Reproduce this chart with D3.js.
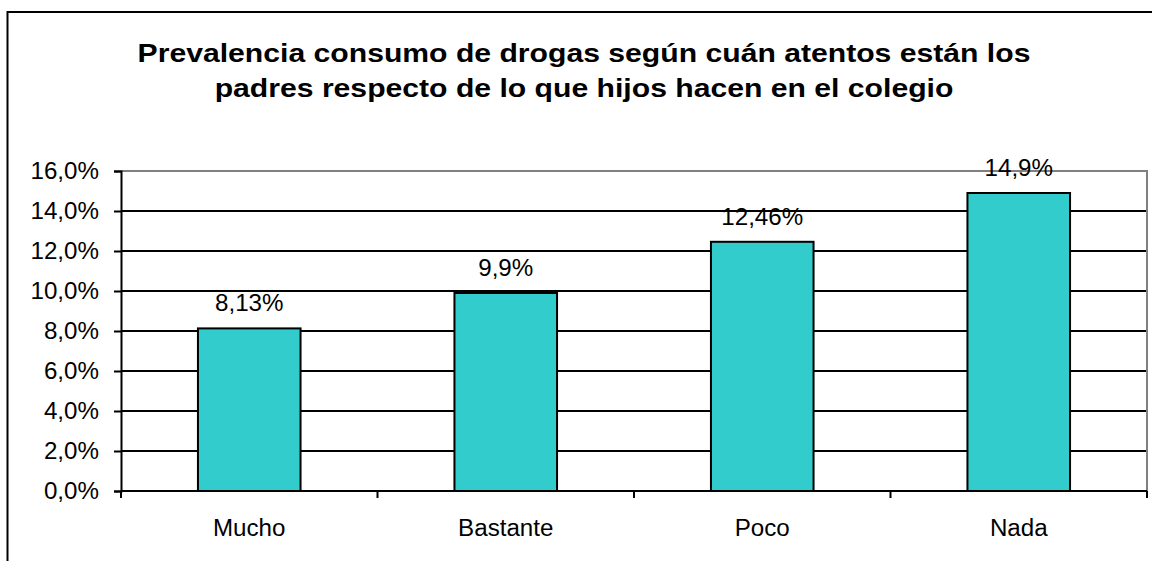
<!DOCTYPE html>
<html>
<head>
<meta charset="utf-8">
<script src="https://cdn.jsdelivr.net/npm/d3@7"></script>
<style>
  html, body { margin: 0; padding: 0; background: #fff; }
  svg { display: block; font-family: Arial, "Liberation Sans", sans-serif; }
</style>
</head>
<body>
<svg></svg>
<script>
const categories = ['Mucho', 'Bastante', 'Poco', 'Nada']
const values = [8.13, 9.9, 12.46, 14.9]
const valueLabels = ['8,13%', '9,9%', '12,46%', '14,9%']
const yTicks = [0, 2, 4, 6, 8, 10, 12, 14, 16]
const titleLines = ['Prevalencia consumo de drogas según cuán atentos están los',
                    'padres respecto de lo que hijos hacen en el colegio']

const width = 1152
const height = 561
const plot = {left: 121, right: 1147, top: 171, bottom: 491}
// el texto del original está algo estirado en horizontal
const titleStretch = 1.16
const labelStretch = 1.05

const svg = d3.select('svg').attr('width', width).attr('height', height)

// marco exterior del gráfico
svg.append('rect')
    .attr('x', 7.5).attr('y', 12)
    .attr('width', 1160).attr('height', 600)
    .attr('fill', 'none').attr('stroke', '#000').attr('stroke-width', 2)

// título
svg.append('g').selectAll('text').data(titleLines).enter().append('text')
    .attr('transform', (d, i) => `translate(584,${62 + i * 35}) scale(${titleStretch},1)`)
    .attr('text-anchor', 'middle')
    .attr('font-size', 26)
    .attr('font-weight', 'bold')
    .text(d => d)

// escalas
const x = d3.scaleBand().domain(categories).range([plot.left, plot.right]).paddingInner(0.6).paddingOuter(0.3)
const xEdge = d3.scaleLinear().domain([0, categories.length]).range([plot.left, plot.right])
const y = d3.scaleLinear().domain([0, 16]).range([plot.bottom, plot.top])

// líneas de cuadrícula
svg.append('g').selectAll('line').data(yTicks.filter(t => t > 0 && t < 16)).enter().append('line')
    .attr('x1', plot.left).attr('x2', plot.right)
    .attr('y1', d => y(d)).attr('y2', d => y(d))
    .attr('stroke', '#000').attr('stroke-width', 2)

// borde del área de trazado (arriba y derecha)
svg.append('path')
    .attr('d', `M${plot.left},${y(16)}H${plot.right}V${plot.bottom}`)
    .attr('fill', 'none').attr('stroke', '#808080').attr('stroke-width', 2)

// barras
svg.append('g').selectAll('rect').data(values).enter().append('rect')
    .attr('x', (d, i) => x(categories[i]))
    .attr('y', d => y(d))
    .attr('width', x.bandwidth())
    .attr('height', d => y(0) - y(d))
    .attr('fill', '#33CCCC')
    .attr('stroke', '#000').attr('stroke-width', 2)

// etiquetas de valores
svg.append('g').selectAll('text').data(values).enter().append('text')
    .attr('transform', (d, i) => `translate(${x(categories[i]) + x.bandwidth() / 2},${y(d) - 17}) scale(${labelStretch},1)`)
    .attr('text-anchor', 'middle')
    .attr('font-size', 23)
    .text((d, i) => valueLabels[i])

// eje Y
const yAxis = d3.axisLeft(y).tickValues(yTicks).tickSize(7).tickPadding(14)
    .tickFormat(d => d3.format('.1f')(d).replace('.', ',') + '%')
const gy = svg.append('g').attr('transform', `translate(${plot.left},0)`).call(yAxis)
gy.select('.domain').attr('stroke', '#000').attr('stroke-width', 2)
gy.selectAll('.tick line').attr('stroke', '#000').attr('stroke-width', 2)
gy.selectAll('.tick text')
    .attr('font-size', 23).attr('fill', '#000')
    .attr('font-family', 'Arial, "Liberation Sans", sans-serif')
    .attr('transform', `scale(${labelStretch},1)`)

// eje X: marcas en los bordes de categoría
const gx = svg.append('g').attr('transform', `translate(0,${plot.bottom})`)
gx.append('line').attr('x1', plot.left).attr('x2', plot.right)
    .attr('stroke', '#000').attr('stroke-width', 2)
gx.selectAll('.edge').data(d3.range(categories.length + 1)).enter().append('line')
    .attr('x1', d => xEdge(d)).attr('x2', d => xEdge(d))
    .attr('y1', 0).attr('y2', 7)
    .attr('stroke', '#000').attr('stroke-width', 2)
gx.selectAll('text').data(categories).enter().append('text')
    .attr('transform', d => `translate(${x(d) + x.bandwidth() / 2},45) scale(${labelStretch},1)`)
    .attr('text-anchor', 'middle')
    .attr('font-size', 23)
    .text(d => d)
</script>
</body>
</html>
